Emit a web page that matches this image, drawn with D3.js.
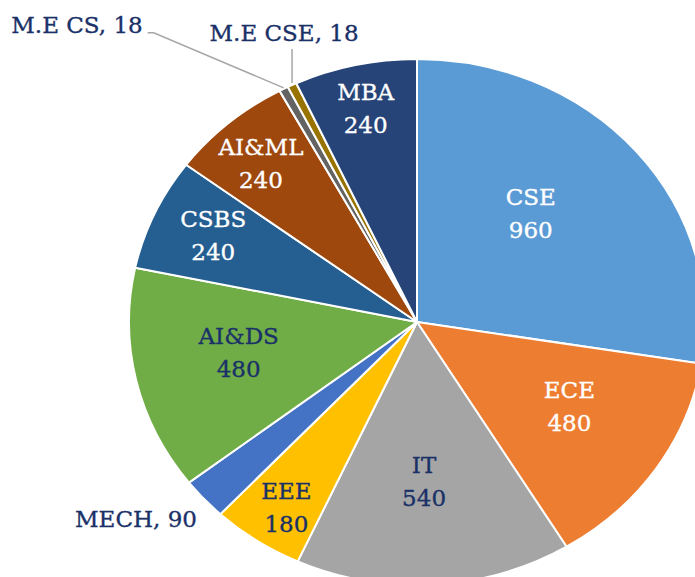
<!DOCTYPE html>
<html>
<head>
<meta charset="utf-8">
<script src="https://cdn.jsdelivr.net/npm/d3@7"></script>
<style>
  html, body { margin: 0; padding: 0; background: #ffffff; overflow: hidden; }
  svg { display: block; }
</style>
</head>
<body>
<svg id="chart" width="695" height="577"></svg>
<script>
// ---- data ----
const categories = ["CSE", "ECE", "IT", "EEE", "MECH", "AI&DS", "CSBS", "AI&ML", "M.E CS", "M.E CSE", "MBA"];
const values     = [960,   480,   540,  180,   90,     480,     240,    240,     18,       18,        240];
const colors     = ["#5B9BD5", "#ED7D31", "#A5A5A5", "#FFC000", "#4472C4", "#70AD47",
                    "#255E91", "#9E480E", "#636363", "#997300", "#264478"];
const labelColors = ["#ffffff", "#ffffff", "#1a3168", "#1a3168", "#1a3168", "#1a3168",
                     "#ffffff", "#ffffff", "#1a3168", "#1a3168", "#ffffff"];
// labels drawn outside the pie (name, value on one line)
const outsideLabels = ["MECH", "M.E CS", "M.E CSE"];

// ---- layout ----
const W = 695, H = 577;
const cx = 417, cy = 322;
const ry = 263, rx = 288;
const sx = rx / ry;
const fontFamily = "'DejaVu Serif', serif";
const fontSize = 23;
const lineGap = 33;

// inside label placement: radius fraction and angle tweak (degrees) from slice mid-angle
const insideLayout = {
  "CSE":   { f: 0.57, da: -5.7 },
  "ECE":   { f: 0.62, da: -2.5 },
  "IT":    { f: 0.61, da: 1.1 },
  "EEE":   { f: 0.84, da: -1.1 },
  "AI&DS": { f: 0.63, da: 2.2 },
  "CSBS":  { f: 0.78, da: 0.6 },
  "AI&ML": { f: 0.81, da: -1.1 },
  "MBA":   { f: 0.83, da: 0 }
};
// outside label placement relative to slice outer point
const outsideLayout = {
  "MECH":    { dx: -7,   dy: 28, anchor: "end",    leader: null },
  "M.E CS":  { dx: -141, dy: -56, anchor: "end",   leader: "elbow" },
  "M.E CSE": { dx: -8,   dy: -44, anchor: "middle", leader: "vertical" }
};

const data = categories.map((c, i) => ({ name: c, value: values[i], color: colors[i], lc: labelColors[i] }));

const svg = d3.select("#chart");

const pie = d3.pie().sort(null).value(d => d.value).startAngle(0).endAngle(2 * Math.PI);
const arcs = pie(data);

const arc = d3.arc().innerRadius(0).outerRadius(ry);

const g = svg.append("g").attr("transform", `translate(${cx},${cy}) scale(${sx},1)`);

g.selectAll("path.slice")
  .data(arcs)
  .join("path")
  .attr("class", "slice")
  .attr("d", arc)
  .attr("fill", d => d.data.color)
  .attr("stroke", "#ffffff")
  .attr("stroke-width", 2)
  .attr("stroke-linejoin", "round")
  .attr("vector-effect", "non-scaling-stroke");

// helper: point on ellipse at angle a (clockwise from top), radius r
function pt(a, r) {
  return [cx + Math.sin(a) * r * sx, cy - Math.cos(a) * r];
}

const labels = svg.append("g").attr("font-family", fontFamily).attr("font-size", fontSize);

arcs.forEach(d => {
  const mid = (d.startAngle + d.endAngle) / 2;
  if (outsideLabels.includes(d.data.name)) {
    const lay = outsideLayout[d.data.name];
    const op = pt(mid, ry);
    const tx = op[0] + lay.dx, ty = op[1] + lay.dy;
    labels.append("text")
      .attr("x", tx).attr("y", ty)
      .attr("text-anchor", lay.anchor)
      .attr("fill", d.data.lc)
      .attr("stroke", d.data.lc).attr("stroke-width", 0.35)
      .text(`${d.data.name}, ${d.data.value}`);
    if (lay.leader === "elbow") {
      svg.append("polyline")
        .attr("points", [[tx + 5, ty], [tx + 11, ty], [op[0], op[1] - 1]].map(p => p.join(",")).join(" "))
        .attr("fill", "none").attr("stroke", "#A6A6A6").attr("stroke-width", 1.5);
    } else if (lay.leader === "vertical") {
      svg.append("line")
        .attr("x1", op[0]).attr("y1", ty + 8)
        .attr("x2", op[0]).attr("y2", op[1] - 2)
        .attr("stroke", "#A6A6A6").attr("stroke-width", 1.5);
    }
  } else {
    const lay = insideLayout[d.data.name];
    const p = pt(mid + lay.da * Math.PI / 180, ry * lay.f);
    const t = labels.append("text")
      .attr("text-anchor", "middle")
      .attr("fill", d.data.lc)
      .attr("stroke", d.data.lc).attr("stroke-width", 0.35);
    t.append("tspan").attr("x", p[0]).attr("y", p[1] - 9).text(d.data.name);
    t.append("tspan").attr("x", p[0]).attr("y", p[1] - 9 + lineGap).text(d.data.value);
  }
});
</script>
</body>
</html>
